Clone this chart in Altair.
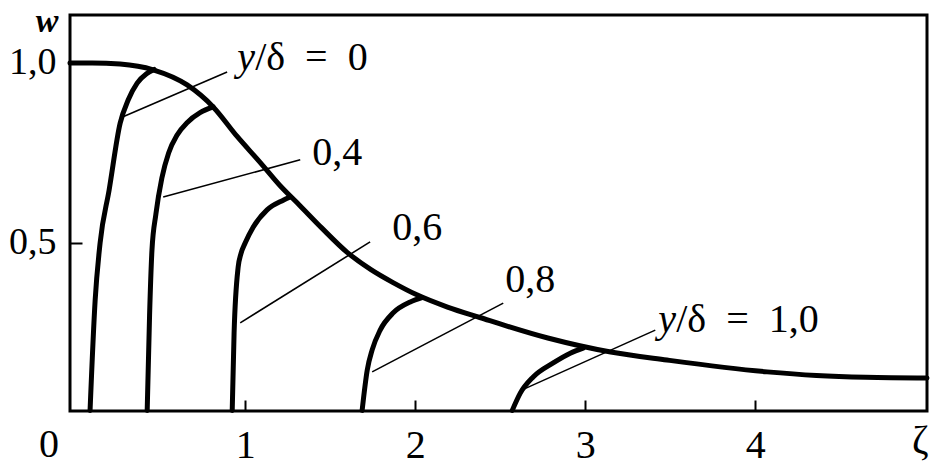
import altair as alt
import pandas as pd

FONT = "Liberation Serif"

# Envelope curve (ζ, w)
main_z = [-0.03, 0.1, 0.265, 0.459, 0.659, 0.812, 0.953, 1.088, 1.206, 1.324, 1.45, 1.6, 1.74, 1.87, 2.01, 2.19, 2.38, 2.78, 3.15, 3.48, 4.07, 4.36, 4.65, 5.01]
main_w = [1.0, 1.0, 0.997, 0.981, 0.939, 0.878, 0.796, 0.724, 0.659, 0.603, 0.542, 0.474, 0.426, 0.39, 0.356, 0.322, 0.293, 0.236, 0.197, 0.175, 0.142, 0.132, 0.127, 0.125]

# Profiles for y/δ
p00_z = [0.088, 0.118, 0.147, 0.2, 0.265, 0.312, 0.365, 0.42, 0.465]
p00_w = [0.035, 0.342, 0.5, 0.647, 0.833, 0.897, 0.944, 0.97, 0.982]
p04_z = [0.424, 0.438, 0.452, 0.475, 0.51, 0.55, 0.6, 0.66, 0.735, 0.812]
p04_w = [0.035, 0.3, 0.48, 0.58, 0.68, 0.75, 0.8, 0.835, 0.862, 0.878]
p06_z = [0.924, 0.935, 0.959, 0.975, 1.0, 1.047, 1.129, 1.224, 1.265]
p06_w = [0.035, 0.25, 0.433, 0.47, 0.5, 0.544, 0.592, 0.619, 0.628]
p08_z = [1.688, 1.718, 1.747, 1.794, 1.871, 1.971, 2.04]
p08_w = [0.035, 0.147, 0.203, 0.258, 0.306, 0.336, 0.348]
p10_z = [2.571, 2.618, 2.694, 2.812, 2.912, 2.988]
p10_w = [0.035, 0.083, 0.128, 0.167, 0.194, 0.208]

# Leader lines: start (on profile) and end (near label)
lead_z1 = [0.265, 0.518, 0.971, 1.747, 2.629]
lead_w1 = [0.847, 0.628, 0.278, 0.142, 0.092]
lead_z2 = [0.894, 1.324, 1.735, 2.518, 3.412]
lead_w2 = [0.975, 0.731, 0.503, 0.333, 0.258]

# Labels
num_labels = ["0,4", "0,6", "0,8"]
num_z = [1.394, 1.865, 2.529]
num_w = [0.717, 0.508, 0.364]
yd_rest = ["/δ\u2002=\u20020", "/δ\u2002=\u20021,0"]
yd_z = [0.953, 3.429]
yd_w = [0.98, 0.253]

x_ticks = [1, 2, 3, 4]
y_ticks = [0.5, 1.0]

XDOM = [-0.03, 5.01]
YDOM = [0.0333, 1.1333]

rows = []
for name, zs, ws in [("main", main_z, main_w), ("0", p00_z, p00_w), ("0.4", p04_z, p04_w),
                     ("0.6", p06_z, p06_w), ("0.8", p08_z, p08_w), ("1.0", p10_z, p10_w)]:
    for i, (z, w) in enumerate(zip(zs, ws)):
        rows.append({"curve": name, "z": z, "w": w, "o": i})
curves = pd.DataFrame(rows)

xs = alt.Scale(domain=XDOM, nice=False, zero=False)
ys = alt.Scale(domain=YDOM, nice=False, zero=False)

xaxis = alt.Axis(values=x_ticks, format="d", domain=False, grid=False, ticks=True, tickSize=11, offset=-11,
                 tickColor="black", tickWidth=2, labelFont=FONT, labelFontSize=40, labelColor="black",
                 labelPadding=14, title=None, labelFlush=False)
yaxis = alt.Axis(values=y_ticks, domain=False, grid=False, ticks=True, tickSize=12, offset=-12,
                 tickColor="black", tickWidth=2, labelFont=FONT, labelFontSize=38, labelColor="black",
                 labelPadding=14, title=None, labelExpr="replace(format(datum.value, '.1f'), '.', ',')")

lines = alt.Chart(curves).mark_line(color="black", strokeWidth=5, interpolate="monotone",
                                    strokeCap="round").encode(
    x=alt.X("z:Q", scale=xs, axis=xaxis),
    y=alt.Y("w:Q", scale=ys, axis=yaxis),
    detail="curve:N",
    order="o:Q",
)

leaders_df = pd.DataFrame({"z1": lead_z1, "w1": lead_w1, "z2": lead_z2, "w2": lead_w2})
leaders = alt.Chart(leaders_df).mark_rule(color="black", strokeWidth=1.6).encode(
    x="z1:Q", y="w1:Q", x2="z2:Q", y2="w2:Q")

nums = alt.Chart(pd.DataFrame({"t": num_labels, "z": num_z, "w": num_w})).mark_text(
    font=FONT, fontSize=40, align="left", baseline="alphabetic", color="black").encode(
    x="z:Q", y="w:Q", text="t:N")

yd_df = pd.DataFrame({"t": yd_rest, "z": yd_z, "w": yd_w, "y": ["y", "y"]})
yitalic = alt.Chart(yd_df).mark_text(font=FONT, fontSize=40, fontStyle="italic", align="left",
                                     baseline="alphabetic", color="black").encode(
    x="z:Q", y="w:Q", text="y:N")
yrest = alt.Chart(yd_df).mark_text(font=FONT, fontSize=40, align="left", dx=18,
                                   baseline="alphabetic", color="black").encode(
    x="z:Q", y="w:Q", text="t:N")

corner = alt.Chart(pd.DataFrame({"t": ["0", "ζ"], "z": [-0.153, 4.97], "w": [-0.094, -0.083]})).mark_text(
    font=FONT, fontSize=40, align="center", baseline="alphabetic", color="black").encode(
    x="z:Q", y="w:Q", text="t:N")
wlab = alt.Chart(pd.DataFrame({"t": ["w"], "z": [-0.165], "w": [1.085]})).mark_text(
    font=FONT, fontSize=34, fontStyle="italic", fontWeight="bold", align="center",
    baseline="alphabetic", color="black").encode(x="z:Q", y="w:Q", text="t:N")

chart = alt.layer(lines, leaders, nums, yitalic, yrest, corner, wlab).properties(
    width=857, height=396,
    autosize=alt.AutoSizeParams(type="none"),
    padding={"left": 62, "top": 7, "right": 10, "bottom": 58},
    background="white",
).configure_view(stroke="black", strokeWidth=3)

chart.save("out.html", embed_options={"renderer": "svg", "actions": False})
